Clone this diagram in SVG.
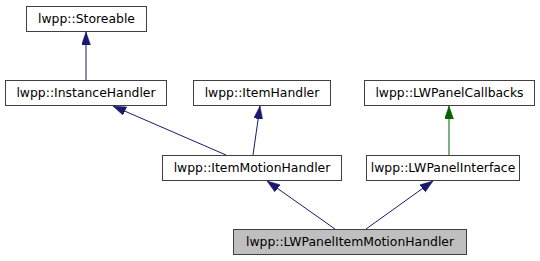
<svg xmlns="http://www.w3.org/2000/svg" width="540" height="261" viewBox="0 0 540 261">
  <style>
    .node rect { fill: #ffffff; stroke: #404040; stroke-width: 1; }
    .node.current rect { fill: #bfbfbf; }
    .node text { font-family: "DejaVu Sans", "Liberation Sans", sans-serif; font-size: 12.4px; fill: #000000; text-anchor: middle; }
    .edge { fill: none; stroke-width: 1; }
    .blue { stroke: #191970; }
    .green { stroke: #006400; }
  </style>
  <defs>
    <marker id="arrowBlue" markerUnits="userSpaceOnUse" markerWidth="14" markerHeight="10" refX="13" refY="4.5" orient="auto">
      <path d="M0,0 L13,4.5 L0,9 z" fill="#191970" stroke="#191970" stroke-width="0.5"/>
    </marker>
    <marker id="arrowGreen" markerUnits="userSpaceOnUse" markerWidth="14" markerHeight="10" refX="13" refY="4.5" orient="auto">
      <path d="M0,0 L13,4.5 L0,9 z" fill="#006400" stroke="#006400" stroke-width="0.5"/>
    </marker>
  </defs>

  <!-- inheritance edges -->
  <g id="edges">
    <line class="edge blue" x1="86" y1="80" x2="86" y2="32" marker-end="url(#arrowBlue)"/>
    <line class="edge blue" x1="226" y1="155" x2="113" y2="106" marker-end="url(#arrowBlue)"/>
    <line class="edge blue" x1="253" y1="155" x2="260" y2="106" marker-end="url(#arrowBlue)"/>
    <line class="edge green" x1="449" y1="155" x2="449" y2="106" marker-end="url(#arrowGreen)"/>
    <line class="edge blue" x1="335" y1="229" x2="267" y2="181" marker-end="url(#arrowBlue)"/>
    <line class="edge blue" x1="366" y1="229" x2="433" y2="181" marker-end="url(#arrowBlue)"/>
  </g>

  <g id="node-storeable" class="node">
    <rect x="26.5" y="6.5" width="120" height="25"/>
    <text x="86.5" y="23">lwpp::Storeable</text>
  </g>
  <g id="node-instancehandler" class="node">
    <rect x="5.5" y="80.5" width="161" height="25"/>
    <text x="86" y="97">lwpp::InstanceHandler</text>
  </g>
  <g id="node-itemhandler" class="node">
    <rect x="193.5" y="80.5" width="137" height="25"/>
    <text x="262" y="97">lwpp::ItemHandler</text>
  </g>
  <g id="node-lwpanelcallbacks" class="node">
    <rect x="364.5" y="80.5" width="170" height="25"/>
    <text x="449.5" y="97">lwpp::LWPanelCallbacks</text>
  </g>
  <g id="node-itemmotionhandler" class="node">
    <rect x="162.5" y="155.5" width="179" height="25"/>
    <text x="252" y="172">lwpp::ItemMotionHandler</text>
  </g>
  <g id="node-lwpanelinterface" class="node">
    <rect x="366.5" y="155.5" width="153" height="25"/>
    <text x="443" y="172">lwpp::LWPanelInterface</text>
  </g>
  <g id="node-lwpanelitemmotionhandler" class="node current">
    <rect x="233.5" y="229.5" width="233" height="25"/>
    <text x="350" y="246">lwpp::LWPanelItemMotionHandler</text>
  </g>
</svg>
